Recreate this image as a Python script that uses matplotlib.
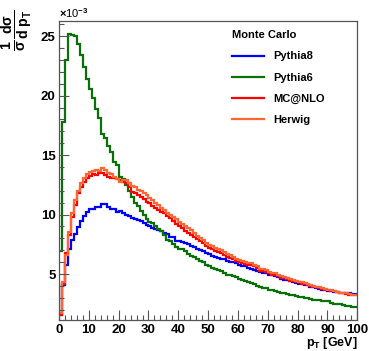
import numpy as np
import matplotlib
matplotlib.use("Agg")
import matplotlib.pyplot as plt
from matplotlib.ticker import MultipleLocator

plt.rcParams['font.family'] = ['Liberation Sans', 'DejaVu Sans']
plt.rcParams['font.weight'] = 'bold'
plt.rcParams['mathtext.fontset'] = 'custom'
plt.rcParams['mathtext.rm'] = 'Liberation Sans:bold'
plt.rcParams['mathtext.it'] = 'Liberation Sans:bold'
plt.rcParams['mathtext.bf'] = 'Liberation Sans:bold'
plt.rcParams['mathtext.sf'] = 'Liberation Sans:bold'

# pT bin edges [GeV]
bin_edges = list(range(0, 101))

pythia8 = [1.55, 4.07, 5.76, 7.08, 7.86, 8.4, 8.98, 9.48, 9.87, 10.24,
           10.43, 10.5, 10.6, 10.65, 10.85, 10.93, 10.6, 10.5, 10.43, 10.24,
           10.3, 10.15, 10.0, 9.87, 9.68, 9.62, 9.54, 9.48, 9.26, 9.12,
           9.03, 8.9, 8.8, 8.72, 8.65, 8.45, 8.4, 8.15, 8.1, 7.8,
           7.75, 7.7, 7.6, 7.55, 7.35, 7.3, 7.1, 7.05, 6.95, 6.8,
           6.7, 6.5, 6.45, 6.35, 6.3, 6.3, 6.1, 6.05, 6.0, 5.95,
           5.75, 5.7, 5.65, 5.5, 5.45, 5.35, 5.3, 5.2, 5.1, 5.05,
           4.95, 4.9, 4.8, 4.75, 4.6, 4.5, 4.5, 4.4, 4.3, 4.25,
           4.2, 4.15, 4.05, 4.05, 3.95, 3.9, 3.85, 3.75, 3.7, 3.65,
           3.6, 3.55, 3.5, 3.5, 3.45, 3.45, 3.4, 3.4, 3.35, 3.3]

pythia6 = [6.9, 17.8, 23.0, 25.2, 25.1, 25.0, 24.3, 23.4, 22.4, 21.4,
           20.6, 19.8, 18.9, 18.1, 16.8, 16.4, 15.8, 15.3, 14.4, 14.2,
           13.2, 13.0, 12.5, 12.0, 11.5, 11.0, 10.7, 10.3, 9.95, 9.6,
           9.35, 9.3, 9.0, 8.8, 8.6, 8.3, 7.9, 7.8, 7.5, 7.3,
           7.15, 7.1, 6.9, 6.65, 6.55, 6.4, 6.3, 6.1, 6.0, 5.75,
           5.65, 5.55, 5.4, 5.35, 5.25, 5.05, 4.95, 4.9, 4.8, 4.75,
           4.6, 4.5, 4.45, 4.3, 4.25, 4.15, 4.0, 3.9, 3.85, 3.8,
           3.7, 3.65, 3.6, 3.5, 3.45, 3.4, 3.35, 3.25, 3.2, 3.15,
           3.05, 3.1, 2.95, 2.95, 2.9, 2.85, 2.8, 2.85, 2.75, 2.7,
           2.7, 2.6, 2.5, 2.5, 2.45, 2.4, 2.35, 2.3, 2.25, 2.2]

mcatnlo = [1.6, 4.2, 6.74, 8.28, 9.82, 10.8, 11.78, 12.34, 12.76, 13.04,
           13.24, 13.4, 13.32, 13.46, 13.5, 13.32, 13.18, 13.04, 13.04, 12.96,
           12.9, 12.76, 12.62, 12.28, 11.9, 11.83, 11.64, 11.5, 11.28, 11.08,
           11.0, 10.7, 10.55, 10.4, 10.24, 10.1, 9.85, 9.7, 9.5, 9.2,
           9.0, 8.85, 8.6, 8.45, 8.3, 8.1, 7.95, 7.75, 7.6, 7.4,
           7.2, 7.1, 6.95, 6.85, 6.75, 6.6, 6.45, 6.35, 6.25, 6.1,
           6.05, 5.95, 5.85, 5.8, 5.75, 5.65, 5.5, 5.3, 5.25, 5.2,
           5.05, 4.95, 4.9, 4.8, 4.7, 4.65, 4.55, 4.45, 4.4, 4.35,
           4.3, 4.2, 4.15, 4.1, 4.0, 3.95, 3.9, 3.85, 3.75, 3.7,
           3.65, 3.6, 3.55, 3.5, 3.45, 3.4, 3.35, 3.25, 3.2, 3.2]

herwig = [1.7, 4.3, 6.6, 8.56, 10.1, 11.2, 12.0, 12.62, 13.04, 13.4,
          13.6, 13.68, 13.74, 13.68, 13.88, 13.74, 13.5, 13.4, 13.18, 12.96,
          12.76, 12.9, 12.9, 12.62, 12.4, 12.3, 12.06, 12.0, 11.78, 11.64,
          11.36, 11.2, 11.0, 10.8, 10.55, 10.4, 10.15, 9.96, 9.8, 9.6,
          9.4, 9.2, 9.0, 8.85, 8.7, 8.45, 8.2, 8.0, 7.85, 7.6,
          7.44, 7.35, 7.2, 7.1, 7.02, 6.85, 6.7, 6.6, 6.45, 6.3,
          6.18, 6.1, 6.0, 5.95, 5.9, 5.8, 5.7, 5.45, 5.4, 5.38,
          5.2, 5.1, 5.05, 4.95, 4.85, 4.75, 4.65, 4.6, 4.5, 4.4,
          4.35, 4.3, 4.25, 4.15, 4.1, 4.0, 3.95, 3.9, 3.8, 3.75,
          3.7, 3.65, 3.6, 3.5, 3.45, 3.45, 3.4, 3.3, 3.25, 3.2]

series_names = ["Pythia8", "Pythia6", "MC@NLO", "Herwig"]
series_values = [pythia8, pythia6, mcatnlo, herwig]
series_colors = ["#0000ff", "#0a700a", "#ff0000", "#ff6633"]

fig = plt.figure(figsize=(3.69, 3.51), dpi=100)
ax = fig.add_axes([0.160, 0.088, 0.808, 0.853])

for name, vals, col in zip(series_names, series_values, series_colors):
    ax.stairs(vals, bin_edges, color=col, lw=1.6, label=name, baseline=None)

ax.set_xlim(0, 100)
ax.set_ylim(1.13, 26.3)

ax.xaxis.set_major_locator(MultipleLocator(10))
ax.xaxis.set_minor_locator(MultipleLocator(2))
ax.yaxis.set_major_locator(MultipleLocator(5))
ax.yaxis.set_minor_locator(MultipleLocator(1))
ax.tick_params(which='both', direction='in', top=False, right=False,
               color='#555555', width=0.8, labelsize=9.5, pad=2.5)
ax.tick_params(which='major', length=7)
ax.tick_params(which='minor', length=3.5)
for lab in ax.get_xticklabels() + ax.get_yticklabels():
    lab.set_fontweight('bold')
for sp in ax.spines.values():
    sp.set_color('#555555')
    sp.set_linewidth(0.9)

ax.text(1.0, -0.05, r"p$_{T}$ [GeV]", transform=ax.transAxes, ha='right',
        va='top', fontsize=9, fontweight='bold')
fig.text(0.048, 0.915, r"$\frac{1}{\sigma}\frac{d\sigma}{d\ p_{T}}$", rotation=90,
         ha='center', va='center', fontsize=14.5)
ax.text(0.0, 1.003, r"$\times$10$^{-3}$", transform=ax.transAxes, ha='left',
        va='bottom', fontsize=8, fontweight='normal')

leg = ax.legend(loc='upper left', bbox_to_anchor=(0.58, 0.968), frameon=False,
                title="Monte Carlo", fontsize=8, handlelength=2.9,
                handletextpad=0.8, labelspacing=1.0, borderaxespad=0.0,
                borderpad=0.0)
leg.get_title().set_fontweight('bold')
leg.get_title().set_fontsize(8)
leg._legend_box.align = "left"
for t in leg.get_texts():
    t.set_fontweight('bold')

fig.savefig("out.png", dpi=100)
